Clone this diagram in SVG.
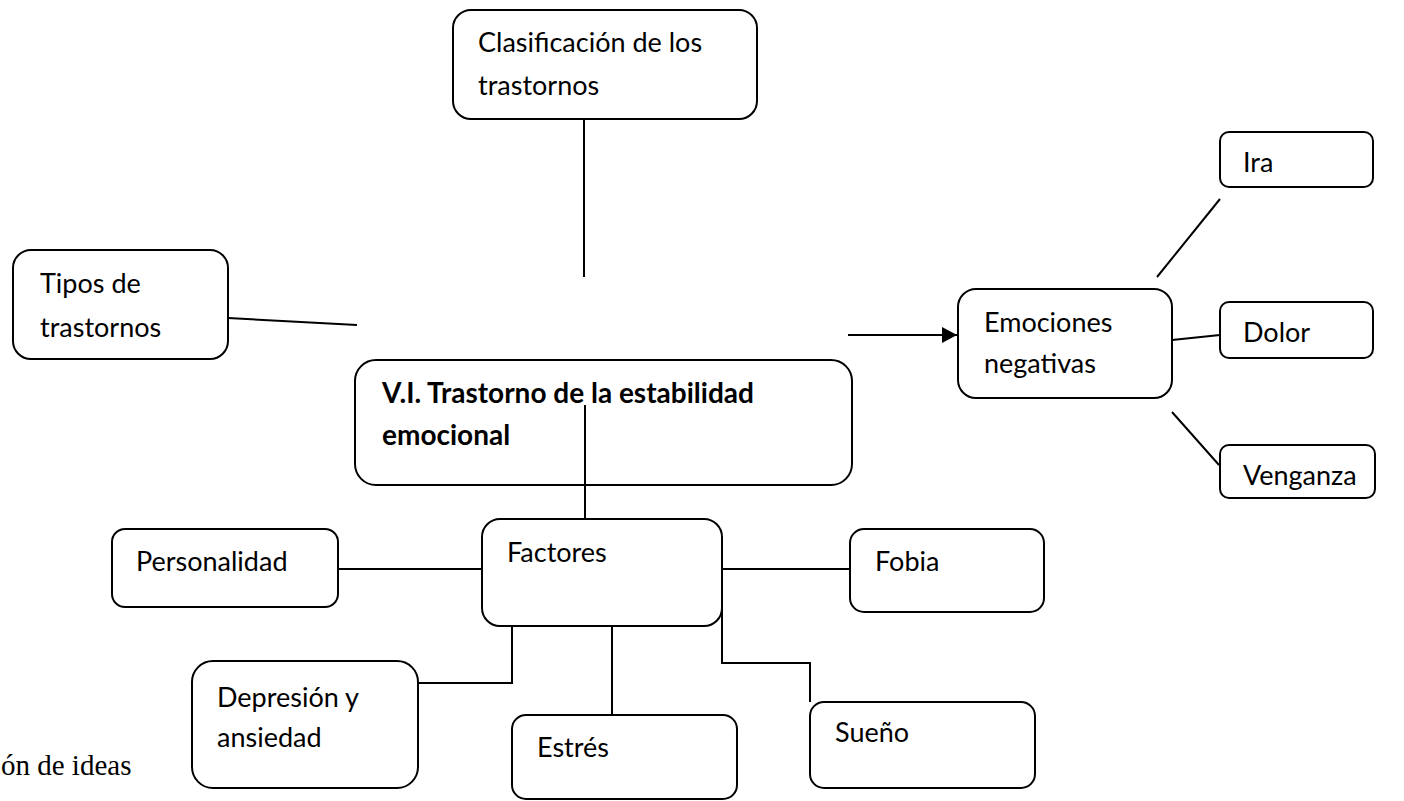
<svg xmlns="http://www.w3.org/2000/svg" width="1404" height="801" viewBox="0 0 1404 801">
<style>
.box{fill:#fff;stroke:#000;stroke-width:2}
.t{font-family:Lato,"Open Sans","Liberation Sans",sans-serif;font-size:27px;fill:#000}
.b{font-weight:bold;font-size:28px}
.c{fill:none;stroke:#000;stroke-width:2}
</style>
<defs>
<marker id="arr" markerUnits="userSpaceOnUse" markerWidth="16" markerHeight="18" refX="15" refY="8" orient="auto">
<path d="M0,0 L15,8 L0,16 Z" fill="#000"/>
</marker>
</defs>
<rect width="1404" height="801" fill="#fff"/>
<g id="connectors">
<line class="c" x1="584" y1="119" x2="584" y2="277"/>
<line class="c" x1="228" y1="318" x2="357" y2="325"/>
<line class="c" x1="848" y1="335" x2="957" y2="335" marker-end="url(#arr)"/>
<line class="c" x1="1157" y1="277" x2="1220" y2="199"/>
<line class="c" x1="1172" y1="340" x2="1220" y2="335"/>
<line class="c" x1="1172" y1="412" x2="1219" y2="465"/>
<line class="c" x1="338" y1="569" x2="482" y2="569"/>
<line class="c" x1="722" y1="569" x2="850" y2="569"/>
<polyline class="c" points="512,626 512,683 418,683"/>
<line class="c" x1="612" y1="626" x2="612" y2="715"/>
<polyline class="c" points="722,600 722,663 810,663 810,702"/>
</g>
<g id="clasificacion">
<rect class="box" x="453" y="10" width="304" height="109" rx="18"/>
<text class="t" x="478" y="52">Clasificación de los</text>
<text class="t" x="478" y="95">trastornos</text>
</g>
<g id="tipos">
<rect class="box" x="13" y="250" width="215" height="109" rx="18"/>
<text class="t" x="40" y="293">Tipos de</text>
<text class="t" x="40" y="337">trastornos</text>
</g>
<g id="central">
<rect class="box" x="355" y="360" width="497" height="125" rx="21"/>
<text class="t b" x="382" y="403">V.I. Trastorno de la estabilidad</text>
<text class="t b" x="382" y="445">emocional</text>
</g>
<line class="c" x1="585" y1="405" x2="585" y2="519"/>
<g id="emociones">
<rect class="box" x="958" y="289" width="214" height="109" rx="18"/>
<text class="t" x="984" y="332">Emociones</text>
<text class="t" x="984" y="373">negativas</text>
</g>
<g id="ira">
<rect class="box" x="1220" y="132" width="153" height="55" rx="9"/>
<text class="t" x="1243" y="172">Ira</text>
</g>
<g id="dolor">
<rect class="box" x="1220" y="302" width="153" height="56" rx="9"/>
<text class="t" x="1243" y="342">Dolor</text>
</g>
<g id="venganza">
<rect class="box" x="1220" y="445" width="155" height="53" rx="9"/>
<text class="t" x="1243" y="485">Venganza</text>
</g>
<g id="personalidad">
<rect class="box" x="112" y="529" width="226" height="78" rx="13"/>
<text class="t" x="136" y="571">Personalidad</text>
</g>
<g id="factores">
<rect class="box" x="482" y="519" width="240" height="107" rx="18"/>
<text class="t" x="507" y="562">Factores</text>
</g>
<g id="fobia">
<rect class="box" x="850" y="529" width="194" height="83" rx="14"/>
<text class="t" x="875" y="571">Fobia</text>
</g>
<g id="depresion">
<rect class="box" x="192" y="661" width="226" height="127" rx="21"/>
<text class="t" x="217" y="707">Depresión y</text>
<text class="t" x="217" y="747">ansiedad</text>
</g>
<g id="estres">
<rect class="box" x="512" y="715" width="225" height="84" rx="14"/>
<text class="t" x="537" y="757">Estrés</text>
</g>
<g id="sueno">
<rect class="box" x="810" y="702" width="225" height="86" rx="14"/>
<text class="t" x="835" y="742">Sueño</text>
</g>
<text x="1" y="775" font-family="'Liberation Serif',serif" font-size="29px" fill="#000">ón de ideas</text>
</svg>
